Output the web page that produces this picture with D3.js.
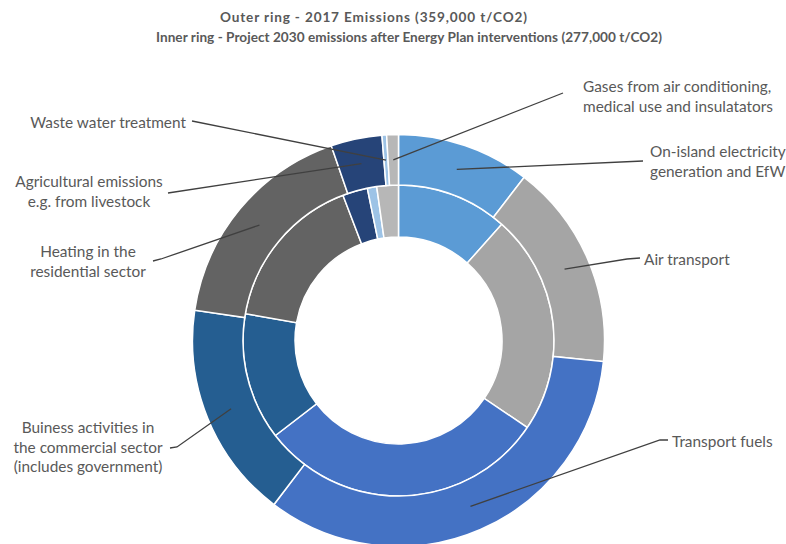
<!DOCTYPE html>
<html>
<head>
<meta charset="utf-8">
<script src="https://cdn.jsdelivr.net/npm/d3@7"></script>
<style>
  body { margin: 0; background: #fff; }
  text { font-family: Lato, "Open Sans", sans-serif; fill: #595959; }
</style>
</head>
<body>
<script>
// categories, clockwise from 12 o'clock
var categories = ["On-island electricity", "Air transport", "Transport fuels", "Business activities",
  "Heating", "Agricultural emissions", "Waste water treatment", "Gases"];
// outer ring - 2017 (t CO2, thousands)
var values2017 = [37.5, 58.1, 121.0, 61.1, 62.3, 14.4, 1.3, 3.3];
// inner ring - 2030 projection
var values2030 = [32.0, 63.4, 83.3, 36.6, 45.5, 7.2, 2.7, 6.2];
var colors = ["#5b9bd5", "#a5a5a5", "#4472c4", "#255e91", "#636363", "#264478", "#9dc3e6", "#b7b7b7"];
var labelLines = [
  ["On-island electricity", "generation and EfW"],
  ["Air transport"],
  ["Transport fuels"],
  ["Buiness activities in", "the commercial sector", "(includes government)"],
  ["Heating in the", "residential sector"],
  ["Agricultural emissions", "e.g. from livestock"],
  ["Waste water treatment"],
  ["Gases from air conditioning,", "medical use and insulatators"]
];
var titleLines = ["Outer ring - 2017 Emissions (359,000 t/CO2)",
  "Inner ring - Project 2030 emissions after Energy Plan interventions (277,000 t/CO2)"];

// label placement (layout only)
var labelPos = [
  {x: 650, y: 157, anchor: "start", end: [643, 161], elbow: null},
  {x: 644, y: 265, anchor: "start", end: [640, 258], elbow: [627, 259]},
  {x: 672, y: 447, anchor: "start", end: [668, 440], elbow: [660, 440]},
  {x: 88, y: 433, anchor: "middle", end: [170, 448], elbow: [177, 447]},
  {x: 88, y: 257, anchor: "middle", end: [153, 261], elbow: [161, 259]},
  {x: 89, y: 187, anchor: "middle", end: [168, 193], elbow: null},
  {x: 186, y: 128, anchor: "end", end: [192, 121], elbow: null},
  {x: 583, y: 92, anchor: "start", end: [563, 93], elbow: null}
];
var titlePos = [{x: 373.5, w: 307}, {x: 409, w: 506}];

var svgWidth = 786, svgHeight = 544;
var cx = 398.5, cy = 340.5;

var svg = d3.select("body").append("svg")
  .attr("width", svgWidth)
  .attr("height", svgHeight);

// title
svg.selectAll("text.title")
  .data(titleLines)
  .enter().append("text")
  .attr("class", "title")
  .attr("x", (d, i) => titlePos[i].x - titlePos[i].w / 2)
  .attr("y", (d, i) => 22 + i * 20)
  .attr("textLength", (d, i) => titlePos[i].w)
  .attr("lengthAdjust", "spacing")
  .style("font-size", "13.6px")
  .style("font-weight", "bold")
  .text(d => d);

var pie = d3.pie().sort(null).value(d => d);
var innerArc = d3.arc().innerRadius(103.5).outerRadius(155.5);
var outerArc = d3.arc().innerRadius(155.5).outerRadius(206);

var g = svg.append("g").attr("transform", `translate(${cx}, ${cy})`);

g.selectAll("path.inner")
  .data(pie(values2030))
  .enter().append("path")
  .attr("class", "inner")
  .attr("d", innerArc)
  .attr("fill", (d, i) => colors[i])
  .attr("stroke", "#fff")
  .attr("stroke-width", 1.5);

var outerSlices = pie(values2017);
g.selectAll("path.outer")
  .data(outerSlices)
  .enter().append("path")
  .attr("class", "outer")
  .attr("d", outerArc)
  .attr("fill", (d, i) => colors[i])
  .attr("stroke", "#fff")
  .attr("stroke-width", 1.5);

// leader lines from the outer slice centroid to the label
var line = d3.line();
svg.selectAll("path.leader")
  .data(outerSlices)
  .enter().append("path")
  .attr("class", "leader")
  .attr("d", function(d, i) {
    var c = outerArc.centroid(d);
    var p = labelPos[i];
    var pts = [[cx + c[0], cy + c[1]]];
    if (p.elbow) pts.push(p.elbow);
    pts.push(p.end);
    return line(pts);
  })
  .attr("fill", "none")
  .attr("stroke", "#404040")
  .attr("stroke-width", 1.3);

// labels
labelLines.forEach(function(lines, i) {
  var p = labelPos[i];
  var t = svg.append("text")
    .attr("text-anchor", p.anchor)
    .style("font-size", "15.4px");
  lines.forEach(function(s, j) {
    t.append("tspan").attr("x", p.x).attr("y", p.y + j * 19.7).text(s);
  });
});
</script>
</body>
</html>
